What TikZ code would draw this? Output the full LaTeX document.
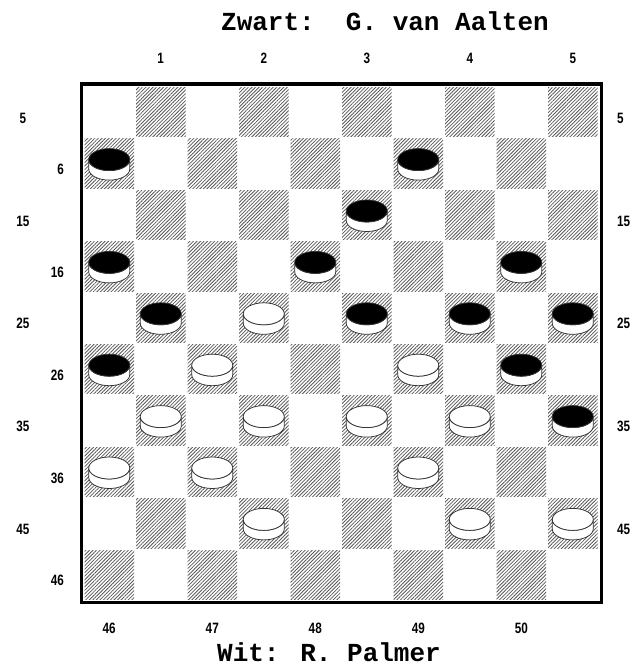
\documentclass[tikz,border=0pt]{standalone}
\usepackage{fontspec}
\usetikzlibrary{patterns.meta}
\newfontfamily\titlefont{Liberation Mono}
\newfontfamily\numfont[FakeStretch=0.78]{Liberation Sans}
\tikzset{
  lbl/.style={font=\numfont\bfseries\fontsize{15}{15}\selectfont, inner sep=0pt},
  ttl/.style={font=\titlefont\bfseries\fontsize{26}{26}\selectfont, inner sep=0pt},
  darksq/.style={pattern={Lines[angle=45,distance=2.5pt,line width=0.8pt]}, pattern color=black!65},
  rim/.style={draw=black!80, line width=0.75pt},
  bdisc/.pic={
    \path[rim, fill=white] (-20.5,0) -- (-20.5,9.5) arc[start angle=180,end angle=0,x radius=20.5,y radius=11] -- (20.5,0) arc[start angle=0,end angle=180,x radius=20.5,y radius=11] -- cycle;
    \path[rim, fill=black] (0,0) ellipse[x radius=20.5,y radius=11];
  },
  wdisc/.pic={
    \path[rim, fill=white] (-20.5,0) -- (-20.5,9.5) arc[start angle=180,end angle=0,x radius=20.5,y radius=11] -- (20.5,0) arc[start angle=0,end angle=180,x radius=20.5,y radius=11] -- cycle;
    \path[rim, fill=white] (0,0) ellipse[x radius=20.5,y radius=11];
  }
}
\begin{document}
\begin{tikzpicture}[x=1pt,y=-1pt]
\useasboundingbox (0,0) rectangle (632,668);
\fill[white] (0,0) rectangle (632,668);
% dark squares
\foreach \r in {1,...,10}{
  \foreach \c in {1,...,10}{
    \pgfmathtruncatemacro\dk{mod(\r+\c,2)}
    \ifnum\dk=1
      \path[darksq] ({83.5+(\c-1)*51.5+1},{86.5+(\r-1)*51.4+1}) rectangle ++(49.5,49.4);
    \fi
  }
}
% frame
\draw[line width=3.4pt] (81.7,84.2) rectangle (601.3,602.3);
% black pieces
\foreach \r/\c in {2/1,2/7,3/6,4/1,4/5,4/9,5/2,5/6,5/8,5/10,6/1,6/9,7/10}
  \pic at ({83.5+(\c-0.5)*51.5},{86.5+(\r-0.5)*51.4-4}) {bdisc};
% white pieces
\foreach \r/\c in {5/4,6/3,6/7,7/2,7/4,7/6,7/8,8/1,8/3,8/7,9/4,9/8,9/10}
  \pic at ({83.5+(\c-0.5)*51.5},{86.5+(\r-0.5)*51.4-4}) {wdisc};
% titles
\node[ttl] (black) at (385,21) {Zwart:\ \ G. van Aalten};
\node[ttl] (white) at (329,652) {Wit: R. Palmer};
% top labels
\foreach \n [count=\i] in {1,2,3,4,5}
  \node[lbl] (top\n) at ({83.5+(2*\i-0.5)*51.5},58) {\n};
% bottom labels
\foreach \n [count=\i] in {46,47,48,49,50}
  \node[lbl] (bot\n) at ({83.5+(2*\i-1.5)*51.5},628) {\n};
% left labels
\foreach \n [count=\i] in {5,15,25,35,45}
  \node[lbl] (lo\n) at (23,{86.5+(2*\i-1.5)*51.4+6}) {\n};
\foreach \n [count=\i] in {6,16,26,36,46}
  \node[lbl, anchor=east] (le\n) at (64,{86.5+(2*\i-0.5)*51.4+6}) {\n};
% right labels
\foreach \n [count=\i] in {5,15,25,35,45}
  \node[lbl, anchor=west] (ro\n) at (617,{86.5+(2*\i-1.5)*51.4+6}) {\n};
\end{tikzpicture}
\end{document}
